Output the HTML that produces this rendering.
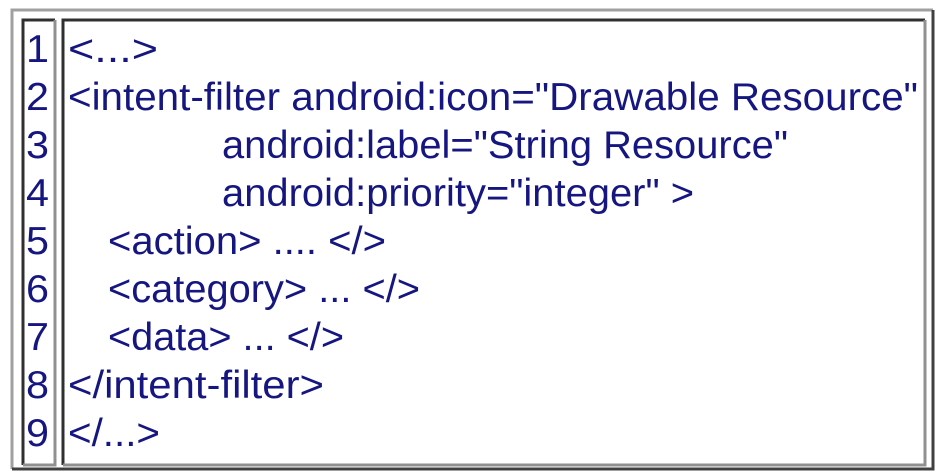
<!DOCTYPE html>
<html><head><style>
html,body{margin:0;padding:0;background:#fff;width:943px;height:476px;overflow:hidden}
</style></head><body>
<svg width="943" height="476" xmlns="http://www.w3.org/2000/svg" style="position:absolute;left:0;top:0">
<rect x="12" y="10" width="921" height="459" fill="#fff"/>
<path d="M12 469 V10 H933" fill="none" stroke="#a0a0a0" stroke-width="3"/>
<path d="M933 10 V469 H12" fill="none" stroke="#404040" stroke-width="3"/>
<path d="M55 20 H23 V465" fill="none" stroke="#303030" stroke-width="3"/>
<path d="M23 465 H55 V20" fill="none" stroke="#909090" stroke-width="3"/>
<path d="M925 20 H63 V465" fill="none" stroke="#303030" stroke-width="3"/>
<path d="M63 465 H925 V20" fill="none" stroke="#909090" stroke-width="3"/>
<g font-family="Liberation Sans, sans-serif" font-size="39" fill="#161680">
<text x="26" y="62" textLength="23" lengthAdjust="spacingAndGlyphs">1</text>
<text x="26" y="110" textLength="23" lengthAdjust="spacingAndGlyphs">2</text>
<text x="26" y="158" textLength="23" lengthAdjust="spacingAndGlyphs">3</text>
<text x="26" y="206" textLength="23" lengthAdjust="spacingAndGlyphs">4</text>
<text x="26" y="254" textLength="23" lengthAdjust="spacingAndGlyphs">5</text>
<text x="26" y="302" textLength="23" lengthAdjust="spacingAndGlyphs">6</text>
<text x="26" y="350" textLength="23" lengthAdjust="spacingAndGlyphs">7</text>
<text x="26" y="398" textLength="23" lengthAdjust="spacingAndGlyphs">8</text>
<text x="26" y="446" textLength="23" lengthAdjust="spacingAndGlyphs">9</text>
<text x="68" y="62" textLength="90" lengthAdjust="spacingAndGlyphs">&lt;...&gt;</text>
<text x="68" y="110" textLength="850" lengthAdjust="spacingAndGlyphs">&lt;intent-filter android:icon="Drawable Resource"</text>
<text x="222" y="158" textLength="566" lengthAdjust="spacingAndGlyphs">android:label="String Resource"</text>
<text x="222" y="206" textLength="472" lengthAdjust="spacingAndGlyphs">android:priority="integer" &gt;</text>
<text x="108" y="254" textLength="278" lengthAdjust="spacingAndGlyphs">&lt;action&gt; .... &lt;/&gt;</text>
<text x="108" y="302" textLength="312" lengthAdjust="spacingAndGlyphs">&lt;category&gt; ... &lt;/&gt;</text>
<text x="108" y="350" textLength="236" lengthAdjust="spacingAndGlyphs">&lt;data&gt; ... &lt;/&gt;</text>
<text x="68" y="398" textLength="256" lengthAdjust="spacingAndGlyphs">&lt;/intent-filter&gt;</text>
<text x="68" y="446" textLength="92" lengthAdjust="spacingAndGlyphs">&lt;/...&gt;</text>
</g>
</svg>
</body></html>
